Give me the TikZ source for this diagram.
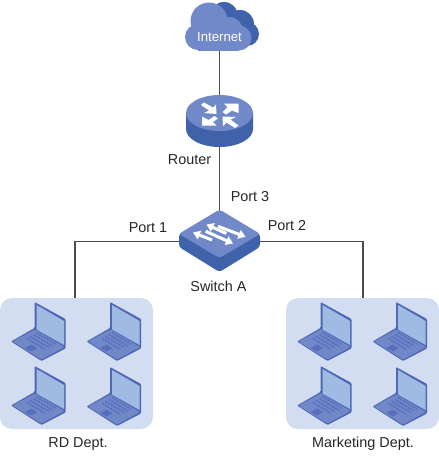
\documentclass[tikz,border=0pt]{standalone}
\usepackage{fontspec}
\setmainfont{Liberation Sans}
\usetikzlibrary{arrows.meta}
\definecolor{blueTop}{HTML}{7189C8}
\definecolor{blueSide}{HTML}{4062AB}
\definecolor{panelBg}{HTML}{D3DDF1}
\definecolor{lapEdge}{HTML}{5068B4}
\definecolor{lapBase}{HTML}{7088C8}
\definecolor{lapScreen}{HTML}{9FBBE4}
\definecolor{lapKey}{HTML}{566FBC}
\definecolor{wireCol}{HTML}{4D4D4D}
\tikzset{
  lbl/.style={font=\fontsize{14.4}{16}\selectfont,text=black!85,inner sep=0pt},
  wire/.style={draw=wireCol,line width=1.6pt},
  hub/.style={inner sep=0pt,minimum width=#1,draw=none},
  panel/.style={fill=panelBg,rounded corners=12pt,inner sep=0pt,minimum width=153pt,minimum height=131pt},
  whiteArrow/.style={draw=white,line width=3pt,-{Triangle[length=7pt,width=9pt,fill=white]}},
  keyrow/.style={draw=lapKey,line width=1.6pt,dash pattern=on 2pt off 1pt},
  laptop/.pic={
    \fill[lapEdge,rounded corners=1pt] (-.5,0) -- (30.5,17) -- (30.5,46.5) -- (6.5,59) -- (-24,39.5) -- (-.5,26) -- cycle;
    \fill[lapScreen] (1.5,3) -- (29,19) -- (29,43) -- (1.5,27.5) -- cycle;
    \fill[lapBase,rounded corners=1pt] (0,27.5) -- (29.5,45) -- (6.5,57.5) -- (-22.5,39.5) -- cycle;
    \draw[keyrow] (-8,36.5) -- (10,47.5);
    \draw[keyrow] (-5,34.5) -- (14,45.5);
    \draw[keyrow] (-1.5,32.5) -- (17.5,44);
    \draw[keyrow] (1.5,30.5) -- (20.5,42);
    \fill[lapKey] (-10,46) -- (-4,42.7) -- (2,46.2) -- (-4,49.5) -- cycle;
  }
}
\begin{document}
\begin{tikzpicture}[x=1pt,y=-1pt]
\useasboundingbox (0,0) rectangle (439,456);
% named anchors
\node[hub=67pt,minimum height=44pt] (internet) at (219.5,28) {};
\node[hub=67pt,minimum height=50pt] (router) at (219.5,121) {};
\node[hub=81pt,minimum height=60pt] (switch) at (219.5,241.5) {};
\node[panel] (rd) at (76.5,363.5) {};
\node[panel] (mkt) at (362.5,363.5) {};
% connectors
\draw[wire] (internet.south) -- (router.north);
\draw[wire] (router.south) -- (switch.north);
\draw[wire] (switch.west) -| ([xshift=-1.5pt]rd.north);
\draw[wire] (switch.east) -| ([xshift=.5pt]mkt.north);
% cloud
\fill[blueSide] (224,16) circle (14) (240,24) circle (14) (247,34) circle (12) (240,38) rectangle (215,45.5);
\fill[blueTop] (198,37) circle (13) (209,21) circle (18.5) (229,31) circle (14) (239,38) circle (12.5);
\fill[blueTop] (198,30) rectangle (239,50.5);
\node[lbl,text=white,font=\fontsize{13.2}{15}\selectfont] (internetText) at (219.5,37) {Internet};
% router
\fill[blueSide] (186,113) -- (186,129) arc[start angle=180,end angle=360,x radius=33.5,y radius=-18] -- (253,113) -- cycle;
\fill[blueTop] (219.5,113) ellipse [x radius=33.5,y radius=18];
\fill[white] (216.5,114) -- (216,104.5) -- (213,107.5) -- (204,102.5) -- (201,105) -- (209,110.5) -- (204,113) -- cycle;
\fill[white] (238.5,103.5) -- (224,103.5) -- (227.5,107) -- (222.5,112) -- (226,114.5) -- (232,110.5) -- (238.5,113) -- cycle;
\fill[white] (202,125.5) -- (216.5,125.5) -- (213,122) -- (218,118.5) -- (214.5,116) -- (208.5,120) -- (202,116.5) -- cycle;
\fill[white] (222.5,116.5) -- (223,126) -- (226.5,122.5) -- (235,128) -- (238.5,125.5) -- (230.5,119.5) -- (236,117) -- cycle;
% switch
\fill[blueSide,rounded corners=3pt] (179,234) -- (219.5,210) -- (260,234) -- (260,247) -- (219.5,272) -- (179,247) -- cycle;
\fill[blueTop,rounded corners=3pt] (179,234) -- (219.5,209.5) -- (260,234) -- (219.5,258) -- cycle;
\draw[whiteArrow] (212,240) -- (193,232.5);
\draw[whiteArrow] (205.7,231.3) -- (233,243.5);
\draw[whiteArrow] (226.3,233.5) -- (206.5,224.5);
\draw[whiteArrow] (218,226.3) -- (245.5,236.8);
% laptops
\path (35,302) pic {laptop} (110.5,302) pic {laptop} (35,366) pic {laptop} (110.5,367) pic {laptop};
\path (321,302) pic {laptop} (396.5,302) pic {laptop} (321,366) pic {laptop} (396.5,367) pic {laptop};
% labels
\node[lbl] (l1) at (189.5,160) {Router};
\node[lbl] (l2) at (250,197) {Port 3};
\node[lbl] (l3) at (148,228) {Port 1};
\node[lbl] (l4) at (287,226) {Port 2};
\node[lbl] (l5) at (218.5,286) {Switch A};
\node[lbl] (l6) at (78,444) {RD Dept.};
\node[lbl] (l7) at (363,444) {Marketing Dept.};
\end{tikzpicture}
\end{document}
